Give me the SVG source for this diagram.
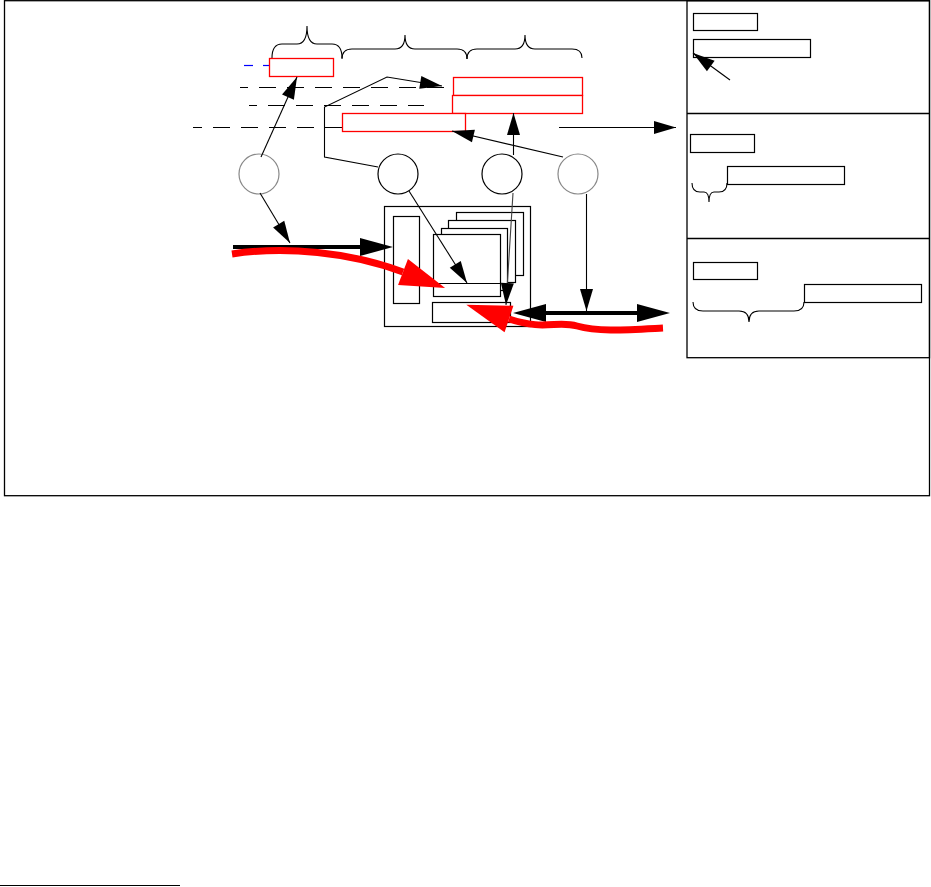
<svg xmlns="http://www.w3.org/2000/svg" width="931" height="887" viewBox="0 0 931 887">
<style>
.fr{fill:none;stroke:#000;stroke-width:1.3}
.bx{fill:#fff;stroke:#000;stroke-width:1.2}
.rb{fill:#fff;stroke:#ff0000;stroke-width:1.3}
.br{fill:none;stroke:#000;stroke-width:1.1}
.ln{fill:none;stroke:#000;stroke-width:1.1}
.dash{fill:none;stroke:#000;stroke-width:1.2;stroke-dasharray:17 11}
.thick{fill:none;stroke:#000;stroke-width:4}
.red{fill:none;stroke:#ff0000;stroke-width:7;stroke-linecap:butt}
.cg{fill:#fff;stroke:#888;stroke-width:1.2}
.cb{fill:#fff;stroke:#000;stroke-width:1.2}
</style>
<defs>
<marker id="ah" markerUnits="userSpaceOnUse" markerWidth="23" markerHeight="13" refX="22" refY="6.5" orient="auto" overflow="visible"><path d="M0,0 L22,6.5 L0,13 z" fill="#000"/></marker>
<marker id="ahb" markerUnits="userSpaceOnUse" markerWidth="34" markerHeight="18" refX="0" refY="9" orient="auto-start-reverse" overflow="visible"><path d="M0,0 L33,9 L0,18 z" fill="#000"/></marker>
<marker id="ahr" markerUnits="userSpaceOnUse" markerWidth="46" markerHeight="28" refX="0" refY="14" orient="auto" overflow="visible"><path d="M0,0 L45,14 L0,28 z" fill="#ff0000"/></marker>
</defs>
<rect width="931" height="887" fill="#fff"/>
<g id="frame">
<rect class="fr" x="4.5" y="0.7" width="925" height="495"/>
<rect class="fr" x="687" y="0.7" width="242.5" height="357"/>
<line class="fr" x1="687" y1="113.5" x2="929.5" y2="113.5"/>
<line class="fr" x1="687" y1="238.5" x2="929.5" y2="238.5"/>
<line x1="0" y1="885.5" x2="180" y2="885.5" stroke="#000" stroke-width="1.2"/>
</g>
<g id="braces">
<path class="br" d="M272,58 Q272,44 282,44 L297,44 Q307,44 307,26 Q307,44 317,44 L332,44 Q342,44 342,58"/>
<path class="br" d="M342,59 Q342,49 352,49 L395,49 Q405,49 405,35 Q405,49 415,49 L457,49 Q467,49 467,59"/>
<path class="br" d="M467,59 Q467,49 477,49 L515,49 Q525,49 525,35 Q525,49 535,49 L572,49 Q582,49 582,58"/>
</g>
<g id="dashes">
<line x1="244" y1="65.5" x2="253" y2="65.5" stroke="#0000ff" stroke-width="1.2"/>
<line x1="263" y1="65.5" x2="272" y2="65.5" stroke="#0000ff" stroke-width="1.2"/>
<line class="dash" x1="240" y1="87.5" x2="452" y2="87.5" stroke-dashoffset="9"/>
<line class="dash" x1="249" y1="105.5" x2="424" y2="105.5" stroke-dashoffset="9"/>
<line class="dash" x1="193" y1="127.5" x2="342" y2="127.5" stroke-dashoffset="8"/>
</g>
<g id="r1"><rect class="rb" x="269.5" y="58.5" width="64" height="18"/></g>
<g id="r2"><rect class="rb" x="453.5" y="77.5" width="129" height="18"/></g>
<g id="r3"><rect class="rb" x="452.5" y="95.5" width="130" height="18"/></g>
<g id="r4"><rect class="rb" x="342.5" y="113.5" width="123" height="18"/></g>
<g id="c1"><circle class="cg" cx="259" cy="174" r="20"/></g>
<g id="c2"><circle class="cb" cx="398" cy="174" r="20"/></g>
<g id="c3"><circle class="cb" cx="502" cy="174" r="20"/></g>
<g id="c4"><circle class="cg" cx="578" cy="174" r="20"/></g>
<g id="device">
<rect class="bx" x="384.5" y="206.5" width="146" height="120"/>
<rect class="bx" x="393.5" y="216.5" width="26" height="87"/>
<rect class="bx" x="456.5" y="212.5" width="67" height="63"/>
<rect class="bx" x="448.5" y="220.5" width="67" height="62"/>
<rect class="bx" x="441.5" y="228.5" width="66" height="62"/>
<rect class="bx" x="433.5" y="234.5" width="67" height="62"/>
<line class="ln" x1="433.5" y1="283.5" x2="500.5" y2="283.5"/>
<rect class="bx" x="432.5" y="302.5" width="78" height="20"/>
</g>
<g id="legend1">
<rect class="bx" x="693.5" y="13.5" width="64" height="17"/>
<rect class="bx" x="693.5" y="39.5" width="117" height="18"/>
</g>
<g id="legend2">
<rect class="bx" x="690.5" y="134.5" width="64" height="18"/>
<rect class="bx" x="727.5" y="166.5" width="117" height="18"/>
<path class="br" d="M692,183 Q692,192 700,192 L704,192 Q709,192 709,202 Q709,192 714,192 L719,192 Q727,192 727,183"/>
</g>
<g id="legend3">
<rect class="bx" x="693.5" y="262.5" width="64" height="17"/>
<rect class="bx" x="804.5" y="284.5" width="117" height="18"/>
<path class="br" d="M693,302 Q693,311 703,311 L739,311 Q749,311 749,322 Q749,311 759,311 L794,311 Q804,311 804,302"/>
</g>
<g id="connectors">
<line class="ln" x1="261" y1="157" x2="297" y2="77" marker-end="url(#ah)"/>
<polyline class="ln" points="378,167 324.5,157 324.5,107 387,77 442,86" marker-end="url(#ah)"/>
<line class="ln" x1="513.5" y1="155" x2="513.5" y2="113" marker-end="url(#ah)"/>
<line class="ln" x1="563" y1="157" x2="452" y2="131" marker-end="url(#ah)"/>
<line class="ln" x1="559" y1="127.5" x2="676" y2="127.5" marker-end="url(#ah)"/>
<line class="ln" x1="730" y1="80" x2="693" y2="53" marker-end="url(#ah)"/>
<line class="ln" x1="260" y1="193" x2="290" y2="243" marker-end="url(#ah)"/>
<line class="ln" x1="409" y1="191" x2="467" y2="283" marker-end="url(#ah)"/>
<line x1="513" y1="193" x2="506" y2="305" stroke="#444" stroke-width="1.1" marker-end="url(#ah)"/>
<line class="ln" x1="586.5" y1="194" x2="586.5" y2="311" marker-end="url(#ah)"/>
<line class="thick" x1="233" y1="247" x2="360" y2="247" marker-end="url(#ahb)"/>
<line class="thick" x1="546" y1="313" x2="637" y2="313" marker-start="url(#ahb)" marker-end="url(#ahb)"/>
<path class="red" d="M232,254 C285,246 350,252 403,272" marker-end="url(#ahr)"/>
<path class="red" d="M663,328 C625,330 598,332 577,326 C557,320 545,331 509,319" marker-end="url(#ahr)"/>
</g>
</svg>
